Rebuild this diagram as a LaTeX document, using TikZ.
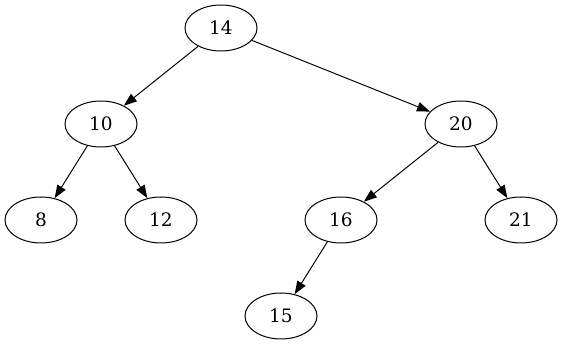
\documentclass[tikz,border=0pt]{standalone}
\usepackage{fontspec}
\setmainfont{DejaVu Serif}
\usepackage{tikz}
\usetikzlibrary{arrows.meta,shapes.geometric}
\definecolor{figline}{RGB}{0,0,0}
\tikzset{
  nd/.style  ={ellipse, draw=figline, line width=1pt, minimum width=72pt, minimum height=46pt, inner sep=0pt, font=\fontsize{18.5}{20}\selectfont},
  edg/.style ={draw=figline, line width=1pt, -{Triangle[length=13pt,width=9.5pt]}},
}
\begin{document}
\begin{tikzpicture}[x=1pt,y=-1pt]
  \useasboundingbox (0,0) rectangle (563,347);
  \node[nd] (n14) at (221,28) {14};
  \node[nd] (n10) at (101,124) {10};
  \node[nd] (n20) at (461,124) {20};
  \node[nd] (n8) at (41,220) {8};
  \node[nd] (n12) at (161,220) {12};
  \node[nd] (n16) at (341,220) {16};
  \node[nd] (n21) at (521,220) {21};
  \node[nd] (n15) at (281,316) {15};
  \draw[edg] (n14) -- (n10);
  \draw[edg] (n14) -- (n20);
  \draw[edg] (n10) -- (n8);
  \draw[edg] (n10) -- (n12);
  \draw[edg] (n20) -- (n16);
  \draw[edg] (n20) -- (n21);
  \draw[edg] (n16) -- (n15);
\end{tikzpicture}
\end{document}
